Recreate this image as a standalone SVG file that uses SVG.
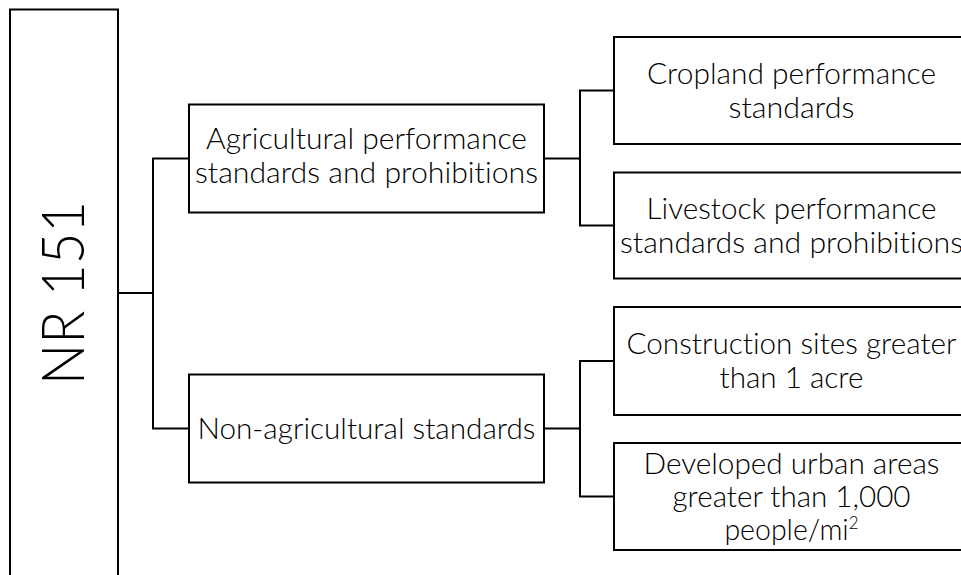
<svg xmlns="http://www.w3.org/2000/svg" width="961" height="575" viewBox="0 0 961 575">
<style>
  .box { fill: #ffffff; stroke: #000000; stroke-width: 2; }
  .conn { fill: none; stroke: #000000; stroke-width: 2; stroke-linejoin: miter; }
  .t { font-family: "Lato", "Open Sans", "Liberation Sans", sans-serif; font-weight: 300; font-size: 28.5px; fill: #000000; text-anchor: middle; font-variant-ligatures: none; }
  .big { font-family: "Lato", "Open Sans", "Liberation Sans", sans-serif; font-weight: 300; font-size: 60px; fill: #000000; text-anchor: middle; font-variant-ligatures: none; }
</style>
<rect x="0" y="0" width="961" height="575" fill="#ffffff"/>
<g id="connectors">
  <path class="conn" d="M118,293 H153"/>
  <path class="conn" d="M189,158.5 H153 V428.5 H189"/>
  <path class="conn" d="M544,158.5 H580"/>
  <path class="conn" d="M614,90.5 H580 V225.5 H614"/>
  <path class="conn" d="M544,428.5 H580"/>
  <path class="conn" d="M614,361 H580 V496.5 H614"/>
</g>
<g id="nr151">
  <rect class="box" x="10" y="9.5" width="108" height="620"/>
  <text class="big" transform="translate(84,293) rotate(-90)" x="0" y="0" textLength="184" lengthAdjust="spacingAndGlyphs">NR 151</text>
</g>
<g id="agricultural">
  <rect class="box" x="189" y="104.5" width="355" height="108"/>
  <text class="t" x="366.5" y="149" textLength="321" lengthAdjust="spacingAndGlyphs">Agricultural performance</text>
  <text class="t" x="366.5" y="183" textLength="343" lengthAdjust="spacingAndGlyphs">standards and prohibitions</text>
</g>
<g id="nonagricultural">
  <rect class="box" x="189" y="374.5" width="355" height="108"/>
  <text class="t" x="366.5" y="439" textLength="338" lengthAdjust="spacingAndGlyphs">Non-agricultural standards</text>
</g>
<g id="cropland">
  <rect class="box" x="614" y="37" width="356" height="107"/>
  <text class="t" x="791.5" y="84" textLength="289" lengthAdjust="spacingAndGlyphs">Cropland performance</text>
  <text class="t" x="791.5" y="118" textLength="126" lengthAdjust="spacingAndGlyphs">standards</text>
</g>
<g id="livestock">
  <rect class="box" x="614" y="172.5" width="356" height="106"/>
  <text class="t" x="791.5" y="219" textLength="290" lengthAdjust="spacingAndGlyphs">Livestock performance</text>
  <text class="t" x="791.5" y="253" textLength="343" lengthAdjust="spacingAndGlyphs">standards and prohibitions</text>
</g>
<g id="construction">
  <rect class="box" x="614" y="307" width="356" height="108"/>
  <text class="t" x="791.5" y="354" textLength="330" lengthAdjust="spacingAndGlyphs">Construction sites greater</text>
  <text class="t" x="791.5" y="388" textLength="144" lengthAdjust="spacingAndGlyphs">than 1 acre</text>
</g>
<g id="developed">
  <rect class="box" x="614" y="443" width="356" height="107"/>
  <text class="t" x="791.5" y="474" textLength="296" lengthAdjust="spacingAndGlyphs">Developed urban areas</text>
  <text class="t" x="791.5" y="507" textLength="238" lengthAdjust="spacingAndGlyphs">greater than 1,000</text>
  <text class="t" x="791.5" y="540">people/mi<tspan dy="-11" font-size="17">2</tspan></text>
</g>
</svg>
